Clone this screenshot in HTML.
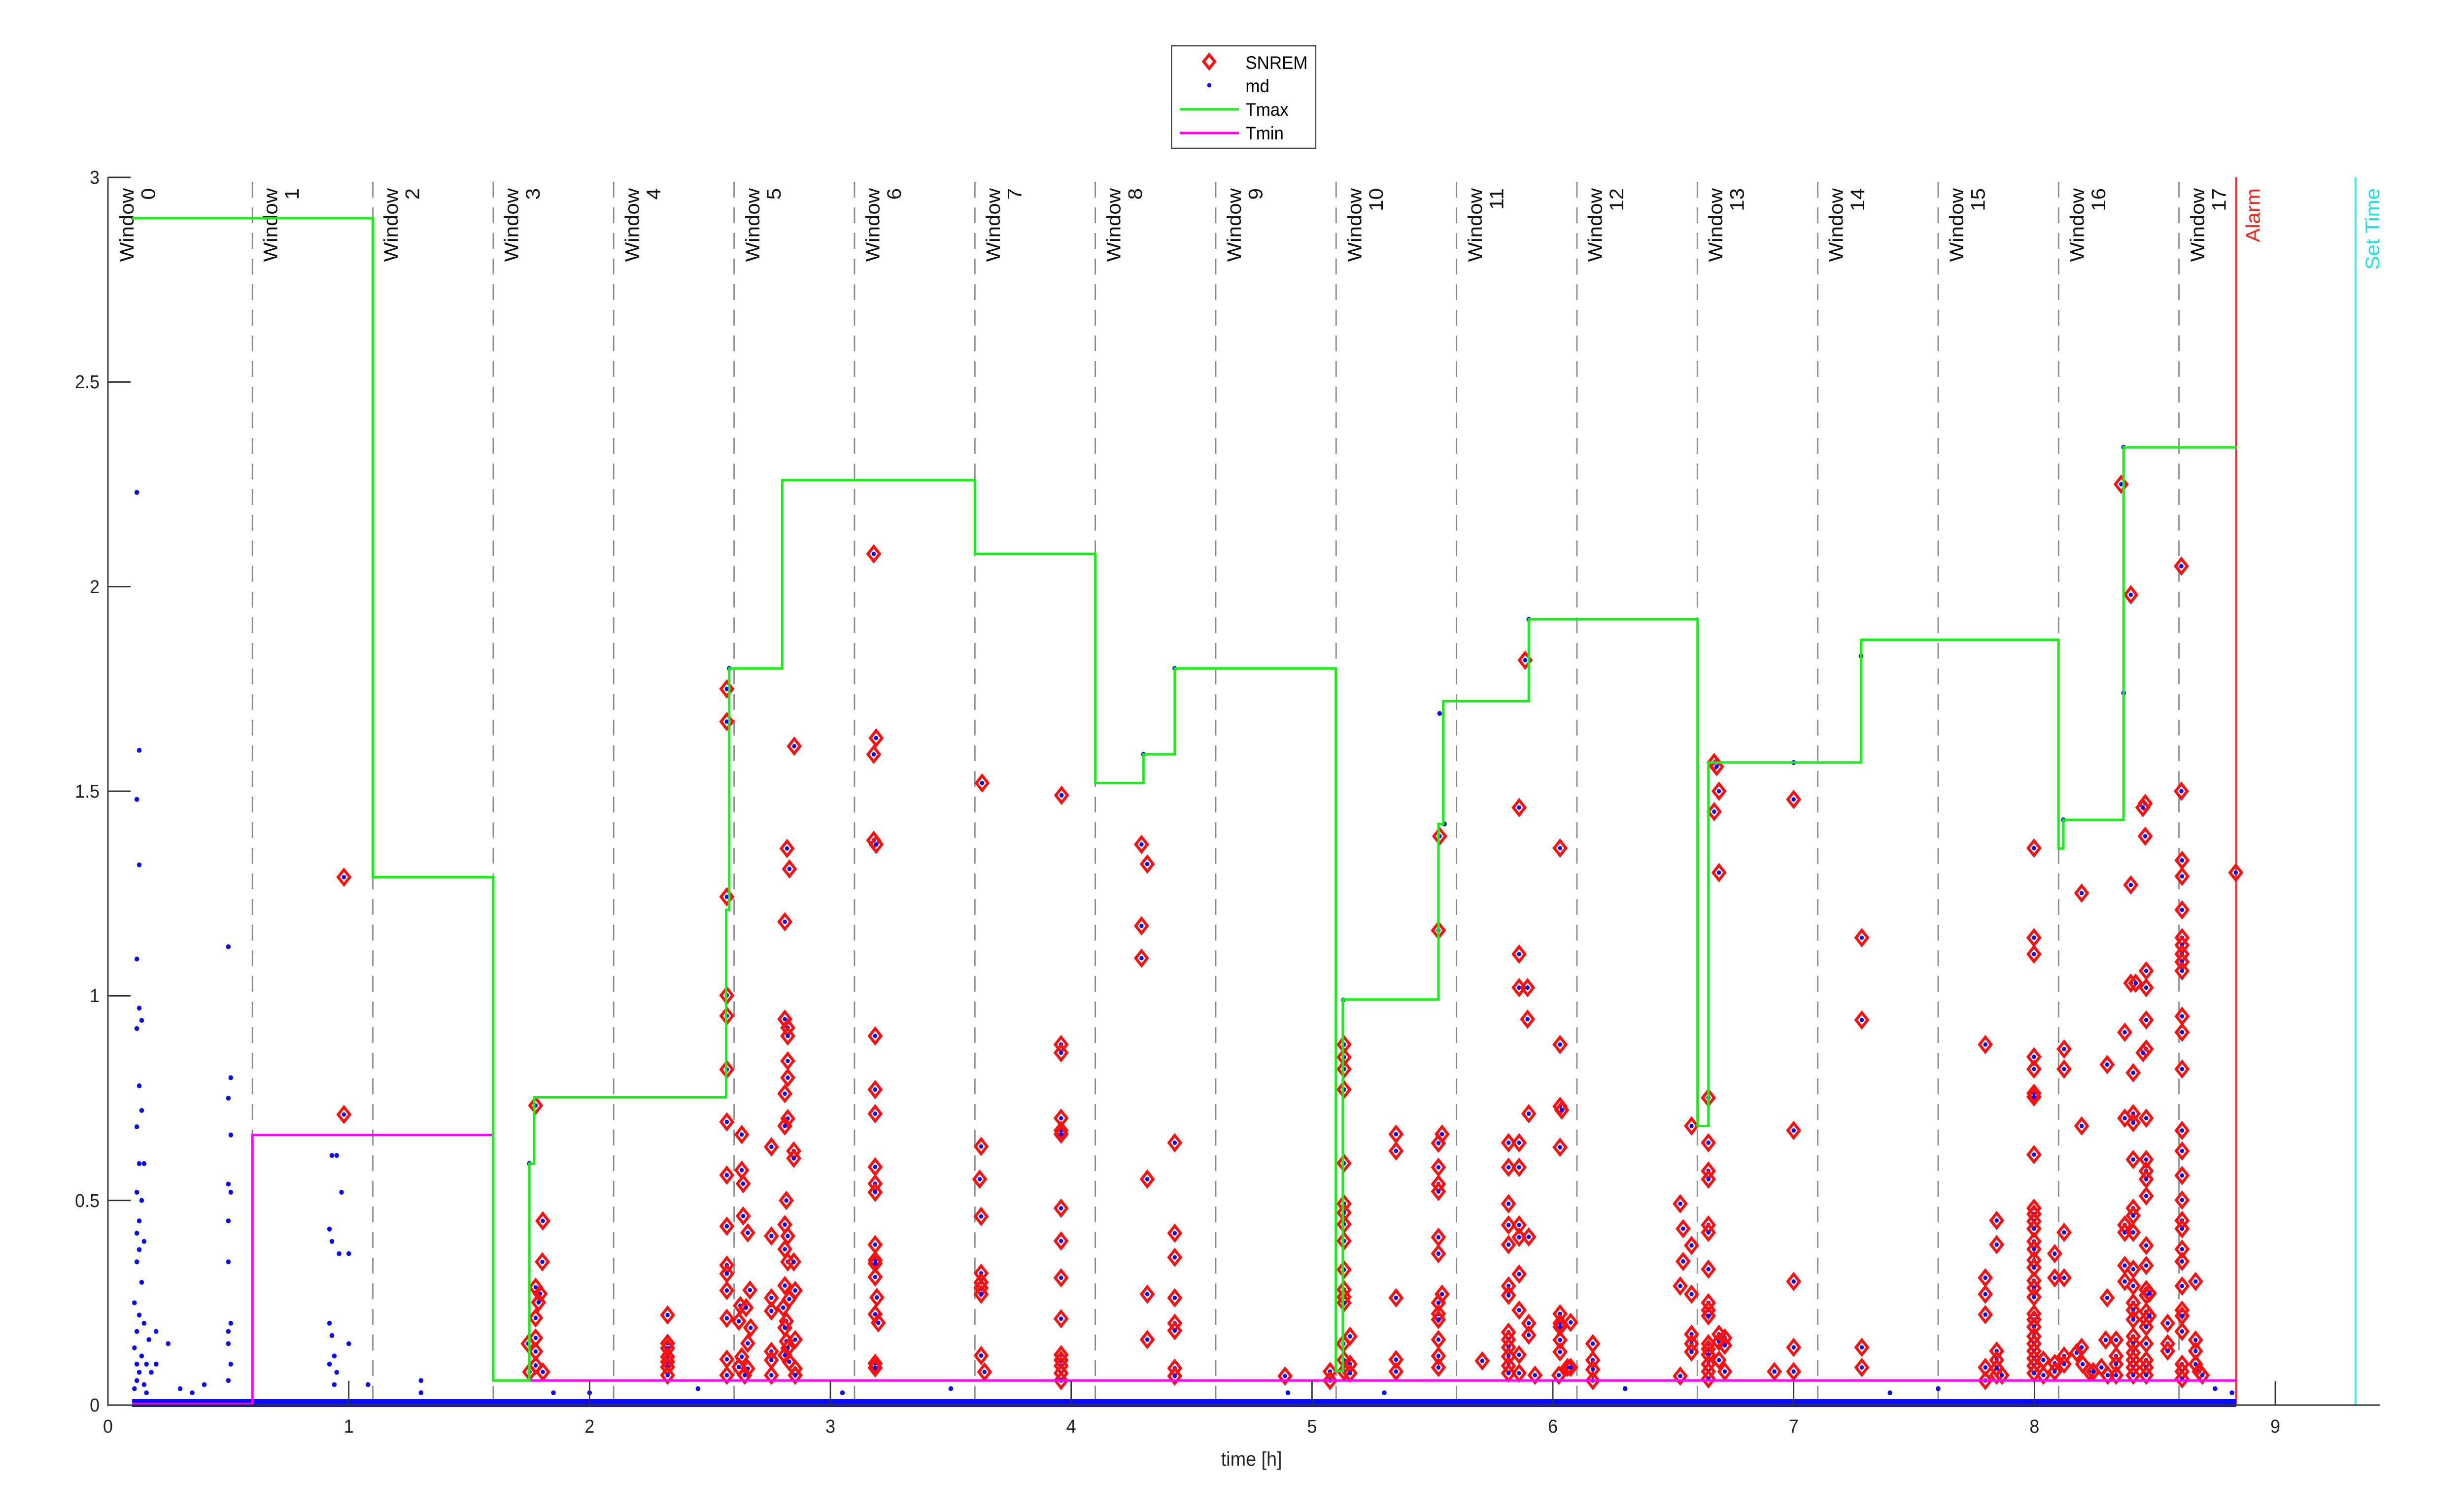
<!DOCTYPE html>
<html><head><meta charset="utf-8"><style>
html,body{margin:0;padding:0;background:#fff;width:100%;height:100%;overflow:hidden;}
svg{display:block;width:100vw;height:100vh;font-family:"Liberation Sans",Arial,sans-serif;}
</style></head><body>
<svg viewBox="0 0 5296 3067" preserveAspectRatio="none" xmlns="http://www.w3.org/2000/svg">
<defs>
<marker id="dm" viewBox="0 0 40 40" refX="20" refY="20" markerUnits="userSpaceOnUse" markerWidth="0.07728" markerHeight="0.04815" preserveAspectRatio="none" overflow="visible">
<path d="M20,5 L32.5,20 20,35 7.5,20Z" fill="none" stroke="#ff1010" stroke-width="6"/>
<circle cx="20" cy="20" r="4.5" fill="#0a0aff"/>
</marker>
<marker id="bd" viewBox="0 0 40 40" refX="20" refY="20" markerUnits="userSpaceOnUse" markerWidth="0.07728" markerHeight="0.04815" preserveAspectRatio="none" overflow="visible">
<circle cx="20" cy="20" r="5" fill="#0a0aff"/>
</marker>
</defs>
<rect width="5296" height="3067" fill="#fff"/>
<g stroke="#8a8a8a" stroke-width="3" stroke-dasharray="32,20">
<line x1="542.6" y1="369" x2="542.6" y2="2852"/><line x1="801.4" y1="369" x2="801.4" y2="2852"/>
<line x1="1060.2" y1="369" x2="1060.2" y2="2852"/><line x1="1319" y1="369" x2="1319" y2="2852"/>
<line x1="1577.8" y1="369" x2="1577.8" y2="2852"/><line x1="1836.6" y1="369" x2="1836.6" y2="2852"/>
<line x1="2095.4" y1="369" x2="2095.4" y2="2852"/><line x1="2354.2" y1="369" x2="2354.2" y2="2852"/>
<line x1="2613" y1="369" x2="2613" y2="2852"/><line x1="2871.8" y1="369" x2="2871.8" y2="2852"/>
<line x1="3130.6" y1="369" x2="3130.6" y2="2852"/><line x1="3389.4" y1="369" x2="3389.4" y2="2852"/>
<line x1="3648.2" y1="369" x2="3648.2" y2="2852"/><line x1="3907" y1="369" x2="3907" y2="2852"/>
<line x1="4165.8" y1="369" x2="4165.8" y2="2852"/><line x1="4424.6" y1="369" x2="4424.6" y2="2852"/>
<line x1="4683.4" y1="369" x2="4683.4" y2="2852"/>
</g>
<g font-size="42" fill="#111" text-anchor="end">
<text transform="translate(287,382) rotate(-90)">Window</text><text transform="translate(333,382) rotate(-90)">0</text>
<text transform="translate(596,382) rotate(-90)">Window</text><text transform="translate(642,382) rotate(-90)">1</text>
<text transform="translate(855,382) rotate(-90)">Window</text><text transform="translate(901,382) rotate(-90)">2</text>
<text transform="translate(1114,382) rotate(-90)">Window</text><text transform="translate(1160,382) rotate(-90)">3</text>
<text transform="translate(1373,382) rotate(-90)">Window</text><text transform="translate(1419,382) rotate(-90)">4</text>
<text transform="translate(1632,382) rotate(-90)">Window</text><text transform="translate(1678,382) rotate(-90)">5</text>
<text transform="translate(1890,382) rotate(-90)">Window</text><text transform="translate(1936,382) rotate(-90)">6</text>
<text transform="translate(2149,382) rotate(-90)">Window</text><text transform="translate(2195,382) rotate(-90)">7</text>
<text transform="translate(2408,382) rotate(-90)">Window</text><text transform="translate(2454,382) rotate(-90)">8</text>
<text transform="translate(2667,382) rotate(-90)">Window</text><text transform="translate(2713,382) rotate(-90)">9</text>
<text transform="translate(2926,382) rotate(-90)">Window</text><text transform="translate(2972,382) rotate(-90)">10</text>
<text transform="translate(3185,382) rotate(-90)">Window</text><text transform="translate(3231,382) rotate(-90)">11</text>
<text transform="translate(3443,382) rotate(-90)">Window</text><text transform="translate(3489,382) rotate(-90)">12</text>
<text transform="translate(3702,382) rotate(-90)">Window</text><text transform="translate(3748,382) rotate(-90)">13</text>
<text transform="translate(3961,382) rotate(-90)">Window</text><text transform="translate(4007,382) rotate(-90)">14</text>
<text transform="translate(4220,382) rotate(-90)">Window</text><text transform="translate(4266,382) rotate(-90)">15</text>
<text transform="translate(4479,382) rotate(-90)">Window</text><text transform="translate(4525,382) rotate(-90)">16</text>
<text transform="translate(4738,382) rotate(-90)">Window</text><text transform="translate(4784,382) rotate(-90)">17</text>
<text transform="translate(4857,382) rotate(-90)" fill="#ff2020">Alarm</text>
<text transform="translate(5114,382) rotate(-90)" fill="#20e0e0">Set Time</text>
</g>
<line x1="4806" y1="360" x2="4806" y2="2852" stroke="#ff3030" stroke-width="4"/>
<line x1="5063" y1="360" x2="5063" y2="2852" stroke="#30eeee" stroke-width="4"/>
<rect x="284" y="2840" width="4522" height="16" fill="#0a0aff"/>
<g transform="translate(232 2852) scale(517.6 -830.7)">
<polyline fill="none" stroke="none" marker-start="url(#bd)" marker-mid="url(#bd)" marker-end="url(#bd)" points="0.12,2.23 0.13,1.6 0.12,1.48 0.13,1.32 0.12,1.09 0.13,0.97 0.14,0.94 0.12,0.92 0.13,0.78 0.14,0.72 0.12,0.68 0.13,0.59 0.15,0.59 0.12,0.52 0.14,0.5 0.13,0.45 0.12,0.42 0.15,0.4 0.13,0.38 0.12,0.35 0.14,0.3 0.11,0.25 0.13,0.22 0.15,0.2 0.12,0.18 0.17,0.16 0.11,0.14 0.14,0.12 0.12,0.1 0.16,0.1 0.13,0.08 0.18,0.08 0.12,0.06 0.15,0.05 0.11,0.04 0.16,0.03 0.2,0.18 0.2,0.1 0.25,0.15 0.3,0.04 0.4,0.05 0.35,0.03 0.5,1.12 0.51,0.8 0.5,0.75 0.51,0.66 0.5,0.54 0.51,0.52 0.5,0.45 0.5,0.35 0.51,0.2 0.5,0.18 0.5,0.15 0.51,0.1 0.5,0.06 0.93,0.61 0.95,0.61 0.97,0.52 0.92,0.43 0.93,0.4 0.96,0.37 0.92,0.2 0.93,0.17 0.94,0.12 0.92,0.1 0.95,0.08 0.94,0.05 1.0,0.37 1.0,0.15 1.08,0.05 1.3,0.06 1.3,0.03 1.85,0.03 2.0,0.03 2.45,0.04 3.05,0.03 3.5,0.04 4.9,0.03 5.3,0.03 6.3,0.04 7.4,0.03 7.6,0.04 8.75,0.04 8.82,0.03 1.75,0.59 5.13,0.99 5.53,1.69 5.55,1.42 6.65,1.57 7.28,1.83 8.12,1.43 8.37,1.74 8.37,2.34 2.58,1.8 4.3,1.59 4.43,1.8 5.9,1.92 7.0,1.57"/>
<polyline fill="none" stroke="none" marker-start="url(#dm)" marker-mid="url(#dm)" marker-end="url(#dm)" points="0.98,1.29 0.98,0.71
1.776,0.732 1.776,0.288 1.795,0.272 1.788,0.251 1.776,0.213 1.776,0.164 1.745,0.15 1.776,0.131 1.776,0.097 1.751,0.081 1.806,0.081 1.806,0.45 1.804,0.35
2.324,0.22 2.324,0.151 2.324,0.139 2.324,0.118 2.324,0.106 2.324,0.093 2.324,0.073
2.57,1.75 2.57,1.67 2.57,1.242 2.57,1.001 2.57,0.951 2.57,0.82 2.57,0.692 2.57,0.562 2.57,0.437 2.57,0.342 2.57,0.321 2.57,0.28 2.57,0.212 2.57,0.112 2.57,0.073
2.632,0.661 2.632,0.574 2.638,0.541 2.638,0.462 2.657,0.421 2.666,0.281 2.626,0.243 2.65,0.238 2.62,0.205 2.669,0.189 2.657,0.151 2.632,0.118 2.62,0.093 2.657,0.089 2.644,0.073
2.755,0.631 2.755,0.413 2.755,0.262 2.755,0.23 2.755,0.131 2.755,0.11 2.755,0.073
2.85,1.61 2.82,1.36 2.83,1.31 2.811,1.181 2.811,0.943 2.823,0.922 2.823,0.902 2.823,0.841 2.823,0.8 2.811,0.761 2.823,0.7 2.811,0.682 2.848,0.621 2.848,0.603 2.817,0.5 2.811,0.441 2.823,0.413 2.811,0.381 2.823,0.35 2.848,0.35 2.811,0.292 2.854,0.28 2.829,0.259 2.804,0.238 2.817,0.205 2.811,0.189 2.854,0.16 2.817,0.156 2.823,0.139 2.811,0.122 2.829,0.106 2.854,0.089 2.854,0.073
3.18,2.08 3.19,1.63 3.18,1.59 3.18,1.38 3.19,1.37 3.186,0.902 3.186,0.771 3.186,0.712 3.186,0.582 3.186,0.541 3.186,0.52 3.186,0.392 3.186,0.354 3.186,0.346 3.186,0.313 3.193,0.263 3.186,0.222 3.199,0.201 3.186,0.102 3.186,0.091
3.63,1.52 3.626,0.632 3.62,0.552 3.626,0.461 3.626,0.322 3.626,0.3 3.626,0.286 3.626,0.271 3.626,0.121 3.64,0.081
3.96,1.49 3.958,0.881 3.958,0.861 3.958,0.701 3.958,0.671 3.958,0.662 3.958,0.481 3.958,0.401 3.958,0.311 3.958,0.211 3.958,0.123 3.958,0.11 3.958,0.096 3.958,0.078 3.958,0.06
4.292,1.37 4.316,1.322 4.292,1.171 4.292,1.092 4.316,0.552 4.316,0.271 4.316,0.16
4.43,0.641 4.43,0.42 4.43,0.361 4.43,0.262 4.43,0.2 4.43,0.182 4.43,0.09 4.43,0.071
4.888,0.071 5.075,0.082 5.075,0.06
5.133,0.881 5.133,0.85 5.133,0.821 5.133,0.771 5.133,0.591 5.133,0.492 5.133,0.47 5.133,0.442 5.133,0.401 5.133,0.331 5.133,0.282 5.133,0.264 5.133,0.25 5.13,0.15 5.158,0.168 5.133,0.11 5.158,0.1 5.133,0.082 5.158,0.078
5.349,0.662 5.349,0.621 5.349,0.262 5.349,0.111 5.349,0.082
5.53,1.39 5.525,1.16 5.54,0.662 5.525,0.64 5.525,0.581 5.525,0.54 5.525,0.522 5.525,0.41 5.525,0.37 5.54,0.271 5.525,0.25 5.525,0.223 5.525,0.209 5.525,0.16 5.525,0.12 5.525,0.092
5.707,0.108
5.816,0.641 5.816,0.581 5.816,0.492 5.816,0.44 5.816,0.392 5.816,0.291 5.816,0.268 5.816,0.178 5.816,0.16 5.816,0.141 5.816,0.119 5.816,0.096 5.816,0.078
5.86,1.46 5.86,1.102 5.86,1.02 5.86,0.641 5.86,0.581 5.86,0.44 5.86,0.41 5.86,0.32 5.86,0.232 5.86,0.123 5.86,0.078
5.885,1.82 5.895,1.02 5.895,0.943 5.9,0.712 5.9,0.411 5.9,0.2 5.9,0.171 5.926,0.073
6.03,1.361 6.03,0.881 6.03,0.73 6.037,0.721 6.03,0.63 6.03,0.223 6.03,0.2 6.03,0.191 6.03,0.159 6.03,0.13 6.061,0.092 6.025,0.073 6.074,0.202 6.074,0.092
6.166,0.15 6.166,0.11 6.166,0.087 6.166,0.06
6.529,0.492 6.529,0.291 6.529,0.071 6.541,0.431 6.541,0.351
6.576,0.682 6.576,0.39 6.576,0.271 6.576,0.173 6.576,0.15 6.576,0.13
6.67,1.57 6.68,1.56 6.69,1.5 6.67,1.45 6.646,0.751 6.646,0.641 6.646,0.572 6.646,0.552 6.646,0.44 6.646,0.422 6.646,0.332 6.646,0.25 6.646,0.232 6.646,0.218 6.646,0.15 6.646,0.137 6.646,0.123 6.646,0.1 6.646,0.082 6.646,0.064 6.69,1.301 6.69,0.173 6.69,0.155 6.69,0.11 6.714,0.164 6.714,0.146 6.714,0.082
6.92,0.082 7.0,1.48 7.0,0.671 7.0,0.302 7.0,0.141 7.0,0.082
7.283,1.142 7.283,0.941 7.283,0.141 7.283,0.092
7.796,0.881 7.796,0.311 7.796,0.271 7.796,0.221 7.796,0.092 7.796,0.06
7.843,0.451 7.843,0.392 7.843,0.132 7.843,0.11 7.843,0.073 7.843,0.09 7.865,0.073
7.998,1.361 7.998,1.142 7.998,1.102 7.998,0.851 7.998,0.821 7.998,0.762 7.998,0.753 7.998,0.612 7.998,0.481 7.998,0.467 7.998,0.449 7.998,0.431 7.998,0.4 7.998,0.381 7.998,0.354 7.998,0.336 7.998,0.304 7.998,0.286 7.998,0.264 7.998,0.223 7.998,0.209 7.998,0.191 7.998,0.168 7.998,0.15 7.998,0.132 7.998,0.114 7.998,0.096 7.998,0.078 8.037,0.11 8.037,0.073
8.084,0.37 8.084,0.311 8.084,0.102 8.084,0.082
8.123,0.87 8.123,0.821 8.123,0.422 8.123,0.311 8.123,0.12 8.123,0.1
8.175,0.128 8.196,0.141 8.2,0.1 8.227,0.082 8.244,0.082 8.196,1.251 8.196,0.682
8.302,0.832 8.302,0.262 8.296,0.159 8.278,0.092 8.304,0.073 8.339,0.159 8.339,0.12 8.339,0.1 8.339,0.073
8.36,2.25 8.375,0.911 8.375,0.701 8.375,0.44 8.375,0.422 8.375,0.341 8.375,0.302
8.4,1.98 8.4,1.271 8.4,1.031 8.42,1.031 8.41,0.812 8.41,0.712 8.41,0.69 8.41,0.6 8.41,0.481 8.41,0.463 8.41,0.422 8.41,0.332 8.41,0.291 8.41,0.25 8.41,0.232 8.41,0.209 8.41,0.168 8.41,0.15 8.41,0.128 8.41,0.11 8.41,0.092 8.41,0.073
8.46,1.47 8.45,1.46 8.46,1.39 8.464,1.061 8.464,1.02 8.464,0.941 8.464,0.87 8.451,0.861 8.464,0.701 8.464,0.6 8.464,0.572 8.464,0.552 8.464,0.511 8.464,0.39 8.464,0.341 8.464,0.282 8.464,0.268 8.464,0.228 8.464,0.209 8.464,0.191 8.464,0.15 8.464,0.11 8.464,0.092 8.464,0.073 8.477,0.273 8.477,0.218
8.553,0.2 8.553,0.15 8.553,0.132
8.61,2.05 8.61,1.5 8.613,1.331 8.613,1.292 8.613,1.21 8.613,1.142 8.613,1.124 8.613,1.102 8.613,1.083 8.613,1.061 8.613,0.95 8.613,0.911 8.613,0.821 8.613,0.671 8.613,0.621 8.613,0.561 8.613,0.501 8.613,0.451 8.613,0.431 8.613,0.381 8.613,0.351 8.613,0.291 8.613,0.232 8.613,0.218 8.613,0.18 8.613,0.1 8.613,0.082 8.613,0.064
8.669,0.302 8.669,0.159 8.669,0.132 8.669,0.1 8.684,0.082 8.697,0.073
8.836,1.301"/>
<polyline fill="none" stroke="#ff00ff" stroke-width="5" vector-effect="non-scaling-stroke" points="0.1,0.003 0.6,0.003 0.6,0.66 1.6,0.66 1.6,0.06 8.84,0.06"/>
<polyline fill="none" stroke="#1aee1a" stroke-width="5" vector-effect="non-scaling-stroke" points="0.1,2.9 1.1,2.9 1.1,1.29 1.6,1.29 1.6,0.06 1.75,0.06 1.75,0.59 1.77,0.59 1.77,0.752 2.567,0.752 2.567,1.21 2.58,1.21 2.58,1.8 2.8,1.8 2.8,2.26 3.6,2.26 3.6,2.08 4.1,2.08 4.1,1.52 4.3,1.52 4.3,1.59 4.43,1.59 4.43,1.8 5.099,1.8 5.099,0.083 5.128,0.083 5.128,0.991 5.525,0.991 5.525,1.42 5.545,1.42 5.545,1.72 5.9,1.72 5.9,1.92 6.601,1.92 6.601,0.682 6.646,0.682 6.646,1.57 7.28,1.57 7.28,1.87 8.1,1.87 8.1,1.36 8.12,1.36 8.12,1.43 8.37,1.43 8.37,2.34 8.84,2.34"/>
</g>
<g stroke="#333" stroke-width="3" fill="none">
<line x1="232" y1="360" x2="232" y2="2853.5"/>
<line x1="230.5" y1="2852" x2="5115" y2="2852"/>
<line x1="232" y1="360" x2="281" y2="360"/><line x1="232" y1="775.4" x2="281" y2="775.4"/>
<line x1="232" y1="1190.7" x2="281" y2="1190.7"/><line x1="232" y1="1606" x2="281" y2="1606"/>
<line x1="232" y1="2021.3" x2="281" y2="2021.3"/><line x1="232" y1="2436.6" x2="281" y2="2436.6"/>
<line x1="749.6" y1="2852" x2="749.6" y2="2803"/><line x1="1267.2" y1="2852" x2="1267.2" y2="2803"/>
<line x1="1784.8" y1="2852" x2="1784.8" y2="2803"/><line x1="2302.4" y1="2852" x2="2302.4" y2="2803"/>
<line x1="2820" y1="2852" x2="2820" y2="2803"/><line x1="3337.6" y1="2852" x2="3337.6" y2="2803"/>
<line x1="3855.2" y1="2852" x2="3855.2" y2="2803"/><line x1="4372.8" y1="2852" x2="4372.8" y2="2803"/>
<line x1="4890.4" y1="2852" x2="4890.4" y2="2803"/>
</g>
<g font-size="38" fill="#222" text-anchor="end">
<text x="214" y="373">3</text><text x="214" y="788">2.5</text><text x="214" y="1204">2</text>
<text x="214" y="1619">1.5</text><text x="214" y="2034">1</text><text x="214" y="2450">0.5</text><text x="214" y="2865">0</text>
</g>
<g font-size="38" fill="#222" text-anchor="middle">
<text x="232" y="2908">0</text><text x="749.6" y="2908">1</text><text x="1267.2" y="2908">2</text>
<text x="1784.8" y="2908">3</text><text x="2302.4" y="2908">4</text><text x="2820" y="2908">5</text>
<text x="3337.6" y="2908">6</text><text x="3855.2" y="2908">7</text><text x="4372.8" y="2908">8</text>
<text x="4890.4" y="2908">9</text>
<text x="2690" y="2975" font-size="40">time [h]</text>
</g>
<rect x="2518" y="93" width="310" height="208" fill="#fff" stroke="#444" stroke-width="2.5"/>
<path d="M2599,111 L2611,125 2599,139 2587,125Z" fill="none" stroke="#ff1010" stroke-width="6"/>
<circle cx="2599" cy="173" r="4.5" fill="#0a0aff"/>
<line x1="2536" y1="222" x2="2663" y2="222" stroke="#1aee1a" stroke-width="5"/>
<line x1="2536" y1="270" x2="2663" y2="270" stroke="#ff00ff" stroke-width="5"/>
<g font-size="37" fill="#000">
<text x="2677" y="140">SNREM</text><text x="2677" y="187">md</text>
<text x="2677" y="235">Tmax</text><text x="2677" y="283">Tmin</text>
</g>
</svg>
</body></html>
